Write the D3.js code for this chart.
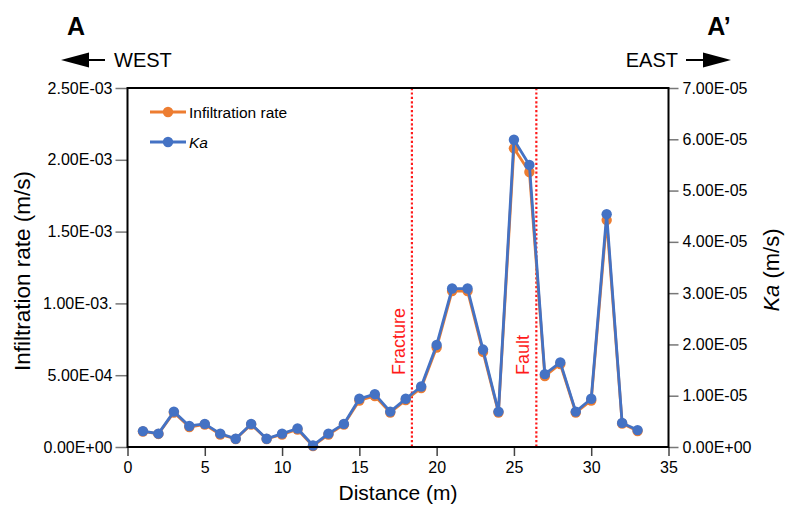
<!DOCTYPE html>
<html>
<head>
<meta charset="utf-8">
<script src="https://cdn.jsdelivr.net/npm/d3@7"></script>
<style>
  html, body { margin: 0; padding: 0; background: #fff; }
  svg { display: block; font-family: "Liberation Sans", Arial, sans-serif; }
</style>
</head>
<body>
<svg id="chart" width="786" height="505"></svg>
<script>
// Measurement positions along the A–A' transect (m)
const distance = [1, 2, 3, 4, 5, 6, 7, 8, 9, 10, 11, 12, 13, 14, 15, 16, 17,
                  18, 19, 20, 21, 22, 23, 24, 25, 26, 27, 28, 29, 30, 31, 32, 33];

// Infiltration rate (m/s), left axis
const infiltrationRate = [1.08e-4, 0.91e-4, 2.40e-4, 1.39e-4, 1.57e-4, 0.87e-4, 0.56e-4, 1.57e-4,
                          0.56e-4, 0.87e-4, 1.22e-4, 0.07e-4, 0.87e-4, 1.57e-4, 3.24e-4, 3.55e-4,
                          2.40e-4, 3.27e-4, 4.11e-4, 6.93e-4, 1.086e-3, 1.086e-3, 6.62e-4, 2.40e-4,
                          2.08e-3, 1.915e-3, 4.94e-4, 5.78e-4, 2.40e-4, 3.24e-4, 1.58e-3, 1.64e-4, 1.11e-4];

// Ka (m/s), right axis
const ka = [0.31e-5, 0.26e-5, 0.69e-5, 0.41e-5, 0.45e-5, 0.26e-5, 0.16e-5, 0.45e-5,
            0.16e-5, 0.26e-5, 0.36e-5, 0.03e-5, 0.26e-5, 0.45e-5, 0.94e-5, 1.03e-5,
            0.69e-5, 0.94e-5, 1.18e-5, 1.99e-5, 3.09e-5, 3.09e-5, 1.90e-5, 0.69e-5,
            5.99e-5, 5.50e-5, 1.42e-5, 1.65e-5, 0.69e-5, 0.94e-5, 4.54e-5, 0.47e-5, 0.33e-5];

// Structural features crossing the transect
const features = [
  { name: "Fracture", x: 18.4 },
  { name: "Fault", x: 26.45 }
];

// Axis ticks
const xTicks = [0, 5, 10, 15, 20, 25, 30, 35];
const leftTicks = [0, 5e-4, 1e-3, 1.5e-3, 2e-3, 2.5e-3];
const leftTickLabels = ["0.00E+00", "5.00E-04", "1.00E-03.", "1.50E-03", "2.00E-03", "2.50E-03"];
const rightTicks = [0, 1e-5, 2e-5, 3e-5, 4e-5, 5e-5, 6e-5, 7e-5];
const rightTickLabels = ["0.00E+00", "1.00E-05", "2.00E-05", "3.00E-05", "4.00E-05", "5.00E-05", "6.00E-05", "7.00E-05"];

const ORANGE = "#ED7D31";
const BLUE = "#4472C4";
const RED = "#FF1A1A";

const svg = d3.select("#chart");
const plot = { left: 127.5, right: 668.5, top: 88, bottom: 447 };

const x = d3.scaleLinear().domain([0, 35]).range([plot.left, plot.right]);
const yL = d3.scaleLinear().domain([0, 2.5e-3]).range([plot.bottom, plot.top]);
const yR = d3.scaleLinear().domain([0, 7e-5]).range([plot.bottom, plot.top]);

// Axes
const leftAxis = d3.axisLeft(yL).tickValues(leftTicks)
  .tickFormat((d, i) => leftTickLabels[i]).tickSize(12).tickPadding(3);
const rightAxis = d3.axisRight(yR).tickValues(rightTicks)
  .tickFormat((d, i) => rightTickLabels[i]).tickSize(10).tickPadding(4);
const bottomAxis = d3.axisBottom(x).tickValues(xTicks)
  .tickFormat(d3.format("d")).tickSize(9).tickPadding(6);

function styleAxis(g, tickColor, fontSize) {
  g.select(".domain").remove();
  g.selectAll(".tick line").attr("stroke", tickColor).attr("stroke-width", 1.5);
  g.selectAll(".tick text").attr("fill", "#000").attr("font-size", fontSize)
    .attr("font-family", "Liberation Sans, Arial, sans-serif");
}

svg.append("g").attr("transform", `translate(${plot.left},0)`).call(leftAxis)
  .call(g => styleAxis(g, "#777", 16));
svg.append("g").attr("transform", `translate(${plot.right},0)`).call(rightAxis)
  .call(g => styleAxis(g, "#777", 16));
svg.append("g").attr("transform", `translate(0,${plot.bottom})`).call(bottomAxis)
  .call(g => styleAxis(g, "#444", 16));

// Feature markers (dotted red lines)
const feat = svg.append("g");
feat.selectAll("line").data(features).join("line")
  .attr("x1", d => x(d.x)).attr("x2", d => x(d.x))
  .attr("y1", plot.top).attr("y2", plot.bottom)
  .attr("stroke", RED).attr("stroke-width", 2.2).attr("stroke-dasharray", "2.2,2.2");
feat.selectAll("text").data(features).join("text")
  .attr("transform", d => `translate(${x(d.x) - 7},375) rotate(-90)`)
  .attr("fill", RED).attr("font-size", 18).text(d => d.name);

// Series
const rateLine = d3.line().x((d, i) => x(distance[i])).y(d => yL(d));
const kaLine = d3.line().x((d, i) => x(distance[i])).y(d => yR(d));

svg.append("path").datum(infiltrationRate).attr("d", rateLine)
  .attr("fill", "none").attr("stroke", ORANGE).attr("stroke-width", 2.8).attr("stroke-linejoin", "round");
svg.append("g").selectAll("circle").data(infiltrationRate).join("circle")
  .attr("cx", (d, i) => x(distance[i])).attr("cy", d => yL(d)).attr("r", 5.2).attr("fill", ORANGE);

svg.append("path").datum(ka).attr("d", kaLine)
  .attr("fill", "none").attr("stroke", BLUE).attr("stroke-width", 2.8).attr("stroke-linejoin", "round");
svg.append("g").selectAll("circle").data(ka).join("circle")
  .attr("cx", (d, i) => x(distance[i])).attr("cy", d => yR(d)).attr("r", 5.2).attr("fill", BLUE);

// Plot frame
svg.append("rect")
  .attr("x", plot.left).attr("y", plot.top)
  .attr("width", plot.right - plot.left).attr("height", plot.bottom - plot.top)
  .attr("fill", "none").attr("stroke", "#000").attr("stroke-width", 2);

// Legend
const legend = [
  { label: "Infiltration rate", color: ORANGE, italic: false },
  { label: "Ka", color: BLUE, italic: true }
];
const lg = svg.append("g");
legend.forEach((d, i) => {
  const ly = 112 + i * 30;
  lg.append("line").attr("x1", 150).attr("x2", 186).attr("y1", ly).attr("y2", ly)
    .attr("stroke", d.color).attr("stroke-width", 2.8);
  lg.append("circle").attr("cx", 168).attr("cy", ly).attr("r", 5.2).attr("fill", d.color);
  lg.append("text").attr("x", 189).attr("y", ly + 5.5).attr("font-size", 15.5)
    .attr("font-style", d.italic ? "italic" : "normal").text(d.label);
});

// Axis titles
svg.append("text").attr("x", x(17.5)).attr("y", 500).attr("text-anchor", "middle")
  .attr("font-size", 21).text("Distance (m)");
svg.append("text").attr("transform", "translate(30,271) rotate(-90)").attr("text-anchor", "middle")
  .attr("font-size", 22.5).text("Infiltration rate (m/s)");
const kaTitle = svg.append("text").attr("transform", "translate(779,270) rotate(-90)")
  .attr("text-anchor", "middle").attr("font-size", 22);
kaTitle.append("tspan").attr("font-style", "italic").text("Ka");
kaTitle.append("tspan").text(" (m/s)");

// Section end labels and direction arrows
svg.append("text").attr("x", 76).attr("y", 35).attr("text-anchor", "middle")
  .attr("font-size", 25).attr("font-weight", "bold").text("A");
svg.append("text").attr("x", 719).attr("y", 35).attr("text-anchor", "middle")
  .attr("font-size", 25).attr("font-weight", "bold").text("A\u2019");

svg.append("text").attr("x", 114).attr("y", 67).attr("font-size", 20).text("WEST");
svg.append("line").attr("x1", 88).attr("x2", 105).attr("y1", 60).attr("y2", 60)
  .attr("stroke", "#000").attr("stroke-width", 2);
svg.append("path").attr("d", "M61,60 L89,52.5 L89,67.5 Z").attr("fill", "#000");

svg.append("text").attr("x", 678).attr("y", 67).attr("text-anchor", "end").attr("font-size", 20).text("EAST");
svg.append("line").attr("x1", 686).attr("x2", 704).attr("y1", 60).attr("y2", 60)
  .attr("stroke", "#000").attr("stroke-width", 2);
svg.append("path").attr("d", "M731,60 L703,52.5 L703,67.5 Z").attr("fill", "#000");
</script>
</body>
</html>
